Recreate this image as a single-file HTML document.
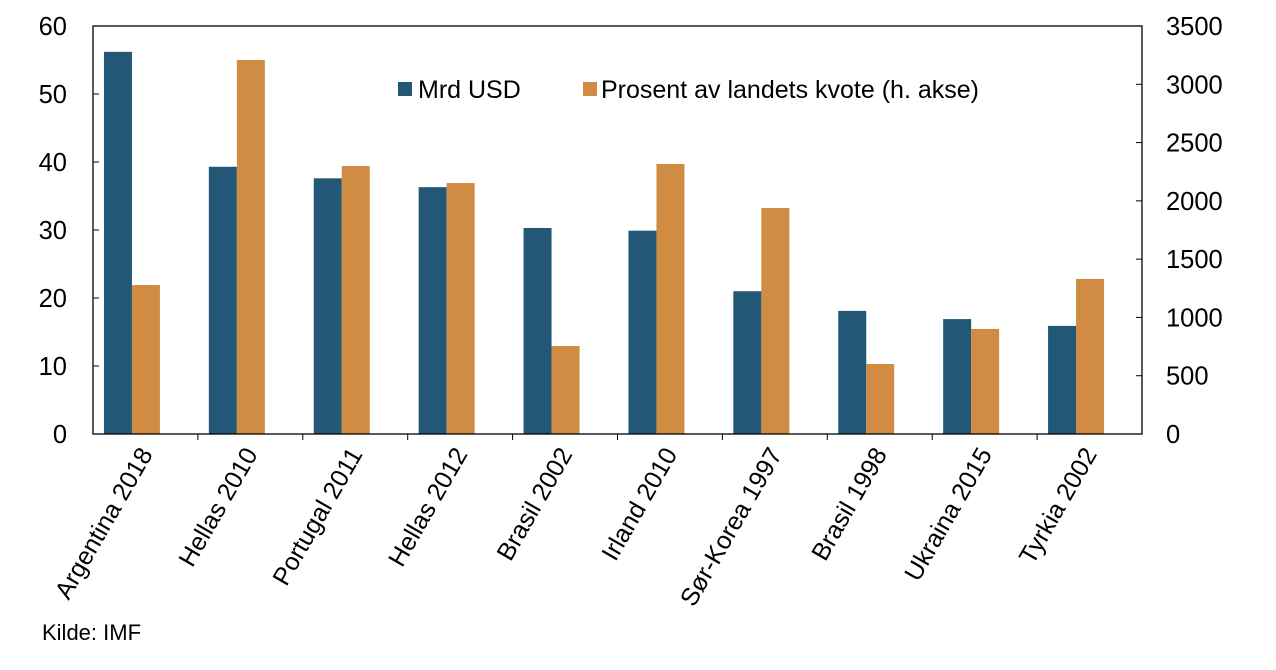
<!DOCTYPE html>
<html><head><meta charset="utf-8"><style>
body{margin:0;background:#fff}
svg text{font-family:"Liberation Sans",Arial,sans-serif;fill:#000}
</style></head><body>
<svg id="c" width="1276" height="665" viewBox="0 0 1276 665">
<g id="g"></g>
<g>
<rect x="398" y="82" width="14" height="14" fill="#225876"/>
<text x="418" y="98" font-size="25">Mrd USD</text>
<rect x="583" y="82" width="14" height="14" fill="#cf8c42"/>
<text x="601" y="98" font-size="25">Prosent av landets kvote (h. akse)</text>
</g>
<text x="42" y="640" font-size="22">Kilde: IMF</text>
</svg>
<script>
const categories=["Argentina 2018","Hellas 2010","Portugal 2011","Hellas 2012","Brasil 2002","Irland 2010","Sør-Korea 1997","Brasil 1998","Ukraina 2015","Tyrkia 2002"];
const mrdUsd=[56.2,39.3,37.6,36.3,30.3,29.9,21.0,18.1,16.9,15.9];
const prosentKvote=[1278,3208,2299,2153,755,2316,1939,600,901,1330];
const leftTicks=[0,10,20,30,40,50,60];
const rightTicks=[0,500,1000,1500,2000,2500,3000,3500];
const NS="http://www.w3.org/2000/svg";
const g=document.getElementById('g');
const X0=93,X1=1142,Y0=434,Y1=26;
const yL=v=>Y0-(v/60)*(Y0-Y1);
const yR=v=>Y0-(v/3500)*(Y0-Y1);
const band=(X1-X0)/categories.length;
const xC=i=>X0+band*(i+0.5);
function mk(t,a){const e=document.createElementNS(NS,t);for(const k in a)e.setAttribute(k,a[k]);g.appendChild(e);return e;}
categories.forEach((c,i)=>{
 const b=mk('rect',{x:xC(i)-41.5,y:yL(mrdUsd[i]),width:28,height:Y0-yL(mrdUsd[i]),fill:'#225876'});
 
 
 const o=mk('rect',{x:xC(i)-13.5,y:yR(prosentKvote[i]),width:28,height:Y0-yR(prosentKvote[i]),fill:'#cf8c42'});
 
 
 const t=mk('text',{transform:`translate(${xC(i)+8},${Y0+20}) rotate(-60)`,'text-anchor':'end','font-size':25});
 t.textContent=c;
 
 
 if(i>0){const tk=mk('line',{x1:X0+band*i,x2:X0+band*i,y1:Y0,y2:Y0+6,stroke:'#000'});
 
 }
});
const ax=mk('rect',{x:X0,y:Y1,width:X1-X0,height:Y0-Y1,fill:'none',stroke:'#000','stroke-width':1.3});


leftTicks.forEach(v=>{
 const t=mk('text',{x:67,y:yL(v)+9,'text-anchor':'end','font-size':25.5});t.textContent=v;
 
 
 const l=mk('line',{x1:X0,x2:X0+6,y1:yL(v),y2:yL(v),stroke:'#000'});
 
 
});
rightTicks.forEach(v=>{
 const t=mk('text',{x:1166,y:yR(v)+9,'font-size':25.5});t.textContent=v;
 
 
 const l=mk('line',{x1:X1-6,x2:X1,y1:yR(v),y2:yR(v),stroke:'#000'});
 
 
});
</script>
</body></html>
